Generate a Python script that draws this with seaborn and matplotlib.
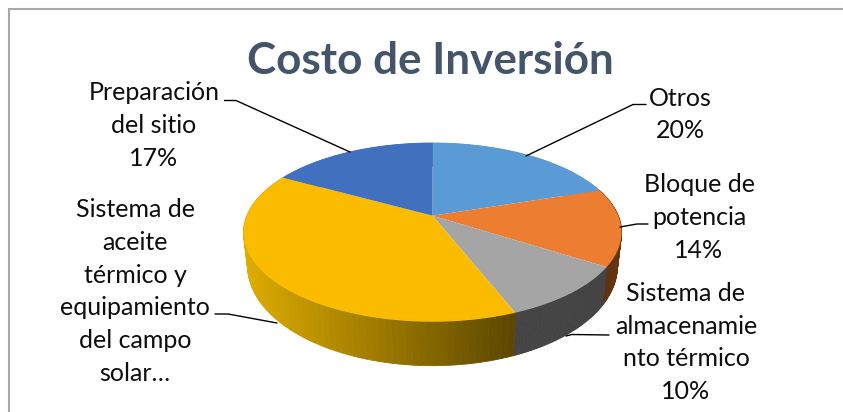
import numpy as np
import matplotlib
matplotlib.use('Agg')
import matplotlib.pyplot as plt
from matplotlib.colors import to_rgb
from matplotlib.transforms import Transform
import seaborn as sns

# Data
labels = ['Otros', 'Bloque de\npotencia', 'Sistema de\nalmacenamie\nnto térmico',
          'Sistema de\naceite\ntérmico y\nequipamiento\ndel campo\nsolar…', 'Preparación\ndel sitio']
values = [20, 14, 10, 39, 17]
show_pct = [True, True, True, False, True]
title = 'Costo de Inversión'

# Colours
top_colors = ['#5B9BD5', '#ED7D31', '#A5A5A5', '#FBBC00', '#4170BF']
wall_left = ['#5B9BD5', '#5A3012', '#444444', '#DDAC00', '#4170BF']
wall_right = ['#5B9BD5', '#68380F', '#444444', '#5C4600', '#4170BF']

# Label placement in pixels
label_pos = [(680, 114.5), (699, 217.5), (686, 342.5), (135, 291.5), (154, 125.5)]
leaders = [
    [(646, 104.5), (633, 104.5), (526, 156)],
    [(648, 224), (637, 224), (620, 227)],
    [(609, 335), (572, 334.5), (566, 336)],
    [(215, 314), (228, 314), (277, 323)],
    [(224.5, 100.5), (236, 100.5), (350, 152)],
]


class Perspective(Transform):
    # unit disc seen at an angle, gives pixel coordinates
    input_dims = 2
    output_dims = 2
    is_separable = False

    def __init__(self, cx, cy, a, b, k):
        super().__init__()
        self.cx, self.cy, self.a, self.b, self.k = cx, cy, a, b, k

    def transform_non_affine(self, values):
        values = np.asarray(values, dtype=float)
        w = 1 + self.k * values[:, 1]
        return np.column_stack([self.cx + self.a * values[:, 0] / w,
                                self.cy - self.b * values[:, 1] / w])


top_disc = Perspective(432.5, 215.7, 185.7, 86.25, 0.1864)
bottom_disc = Perspective(432.5, 247.7, 181.6, 96.0, 0.1864)

sns.set_theme(style='white')
plt.rcParams['font.family'] = ['Lato', 'DejaVu Sans']

fig = plt.figure(figsize=(8.43, 4.12), dpi=100)
ax = fig.add_axes([0, 0, 1, 1])

# Side wall, one thin strip at a time so the gradient shows
edges = np.cumsum([0] + values) / sum(values) * 2 * np.pi
for i in range(len(values)):
    angles = np.linspace(edges[i], edges[i + 1], 80)
    uv = np.column_stack([np.sin(angles), np.cos(angles)])
    upper = top_disc.transform_non_affine(uv)
    lower = bottom_disc.transform_non_affine(uv)
    c0, c1 = np.array(to_rgb(wall_left[i])), np.array(to_rgb(wall_right[i]))
    x0, x1 = upper[:, 0].min(), upper[:, 0].max()
    for j in range(len(angles) - 1):
        t = (upper[j, 0] + upper[j + 1, 0]) / 2
        t = (t - x0) / (x1 - x0)
        col = c0 + (c1 - c0) * t
        ax.fill([upper[j, 0], upper[j + 1, 0], lower[j + 1, 0], lower[j, 0]],
                [upper[j, 1], upper[j + 1, 1], lower[j + 1, 1], lower[j, 1]],
                color=col, lw=0.6, zorder=1)

# Top face
wedges, _ = ax.pie(values, colors=sns.color_palette(top_colors), startangle=90, counterclock=False,
                   wedgeprops={'edgecolor': 'none', 'linewidth': 0})
for w in wedges:
    w.set_transform(top_disc + ax.transData)
    w.set_zorder(2)

ax.set_aspect('auto')
ax.set_xlim(0, 843)
ax.set_ylim(412, 0)
ax.axis('off')

for line in leaders:
    xs, ys = zip(*line)
    ax.plot(xs, ys, color='black', lw=1.0, zorder=3, solid_joinstyle='miter')

for lab, v, show, (x, y) in zip(labels, values, show_pct, label_pos):
    txt = f'{lab}\n{v}%' if show else lab
    ax.text(x, y, txt, ha='center', va='center', ma='center', fontsize=18,
            color='#0d0d0d', linespacing=1.51, zorder=4)

ax.text(430, 61, title, ha='center', va='center', fontsize=31.7, fontweight='bold', color='#44546A')

# Chart frame, only top and left fall inside the crop
ax.plot([8.7, 843], [9, 9], color='#A8A8A8', lw=1.5, clip_on=True)
ax.plot([8.7, 8.7], [9, 412], color='#A8A8A8', lw=1.5, clip_on=True)

fig.savefig('out.png', dpi=100, facecolor='white')
